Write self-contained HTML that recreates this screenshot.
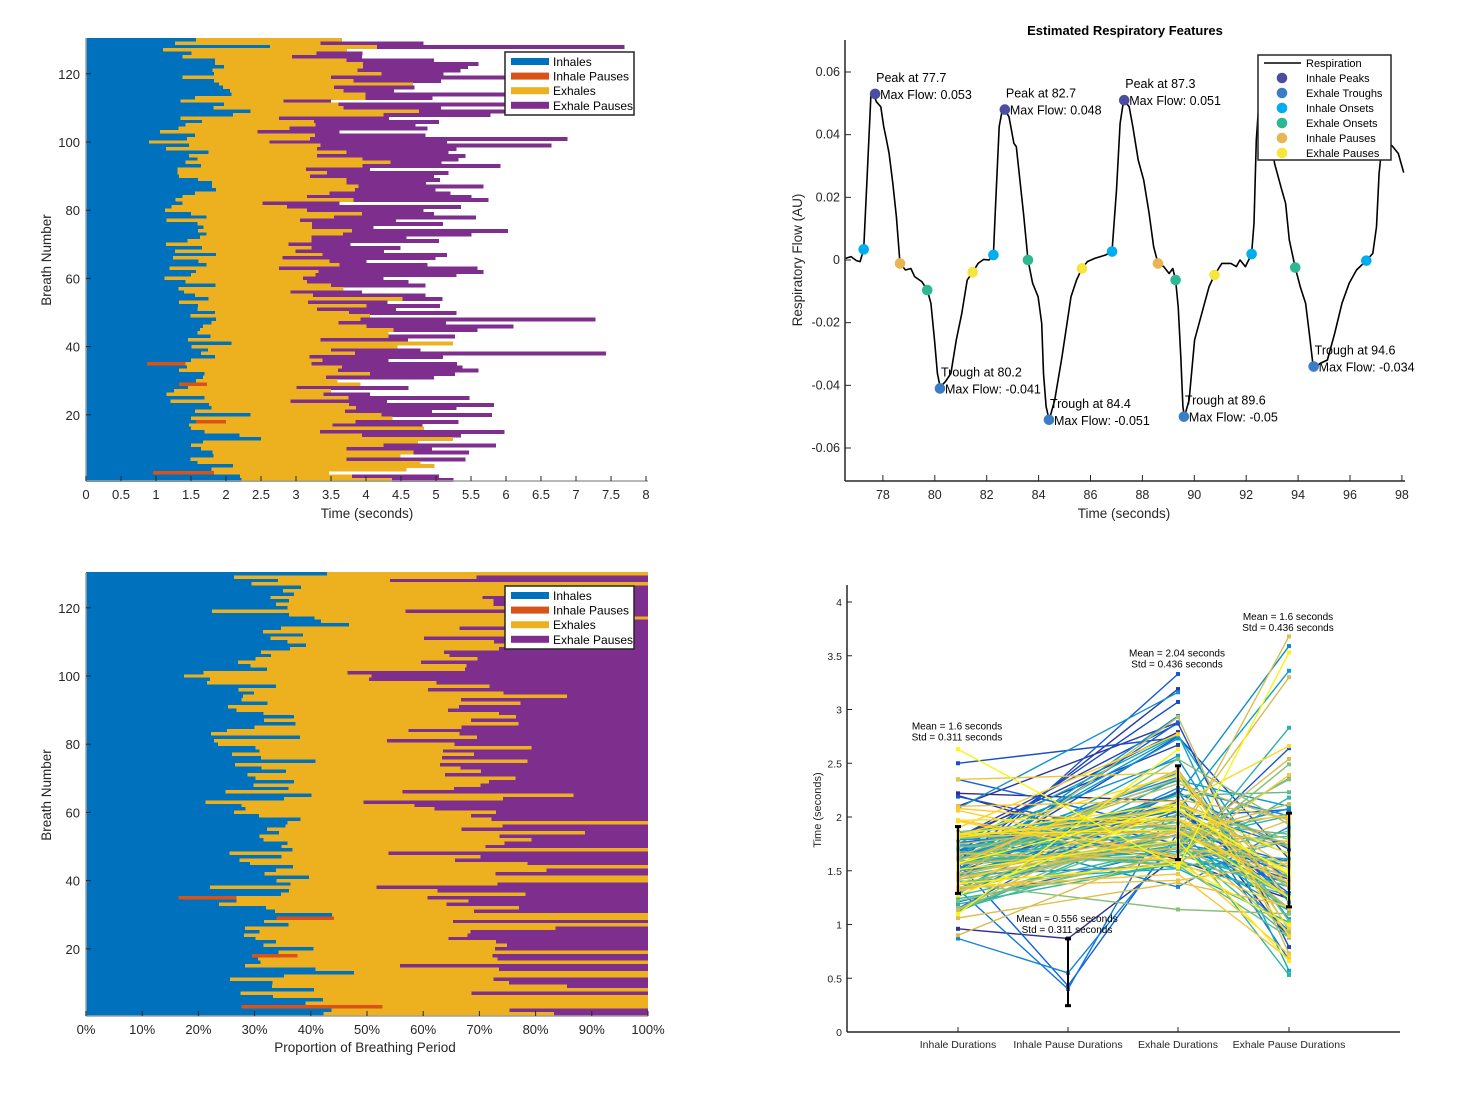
<!DOCTYPE html>
<html><head><meta charset="utf-8"><style>
html,body{margin:0;padding:0;background:#fff;}
svg{display:block;font-family:"Liberation Sans",Arial,sans-serif;}
</style></head><body>
<svg id="chart" width="1462" height="1096" viewBox="0 0 1462 1096" xmlns="http://www.w3.org/2000/svg">
<rect x="0" y="0" width="1462" height="1096" fill="#fff"/>
</svg>
<script>
// ---- breath data, ordered from breath 130 (top) down to breath 1 (seconds from breath onset) ----
const inhaleEnd=[1.57,1.27,2.63,1.10,1.51,1.38,1.84,1.84,1.97,1.81,1.83,1.38,1.83,1.90,1.96,2.06,2.08,1.56,1.35,1.97,
1.82,2.35,2.10,1.35,1.66,1.42,1.32,1.06,1.56,1.44,
0.90,1.47,1.14,1.75,1.47,1.59,1.42,1.64,1.31,1.31,
1.33,1.60,1.80,1.80,1.86,1.56,1.38,1.28,1.38,1.22,
1.13,1.50,1.72,1.15,1.59,1.68,1.60,1.72,1.63,1.45,
1.14,1.66,1.27,1.86,1.24,1.61,1.72,1.19,1.57,1.50,
1.12,1.42,1.85,1.32,1.40,1.56,1.75,1.33,1.60,1.59,
1.84,1.49,1.86,1.79,1.67,1.63,1.59,1.78,1.46,2.08,
1.51,1.74,1.64,1.84,1.50,0.87,1.44,1.33,1.69,1.67,
1.57,1.33,1.46,1.26,1.15,1.69,1.21,1.76,1.79,1.56,
2.35,1.50,1.57,1.47,1.50,1.69,2.19,2.50,1.67,1.50,
1.64,1.81,1.82,1.49,1.59,2.10,1.79,0.96,2.20,2.22];
const pauseBreaths=[35,29,18,3];
const pauseEnds=[1.42,1.73,2.00,1.83];
const exhaleEnd=[3.66,3.35,4.16,3.73,3.29,2.94,3.72,3.96,3.96,3.88,4.22,3.50,3.82,4.67,3.54,3.68,3.99,3.99,2.82,3.61,
3.68,4.76,4.25,2.76,3.26,3.28,2.91,2.45,3.27,3.20,
2.62,3.35,3.30,3.72,3.30,3.95,4.35,3.95,3.14,3.44,
3.20,3.72,3.72,3.89,3.84,3.48,3.16,3.82,2.52,2.87,
3.16,3.94,3.54,3.06,3.23,3.23,3.80,3.67,3.22,3.22,
2.89,3.22,2.99,3.38,2.81,3.48,3.62,2.76,3.32,3.28,
3.10,3.16,3.50,3.68,2.92,3.24,4.52,3.17,4.01,3.30,
3.76,4.06,3.92,3.61,4.01,4.39,4.32,4.32,3.35,5.24,
4.45,3.50,3.84,3.19,3.38,3.22,3.66,3.60,4.06,3.43,
3.59,3.92,3.01,3.50,3.39,3.75,2.92,3.76,3.86,3.70,
4.22,4.38,3.85,3.52,4.83,3.34,3.94,5.24,4.74,4.25,
3.72,4.68,4.49,3.72,4.78,4.98,4.58,3.47,3.80,4.37];
const breathEnd=[null,4.82,7.69,null,3.95,3.94,4.97,5.61,5.46,5.35,5.11,6.16,5.07,null,4.69,4.40,6.00,4.95,3.50,6.00,
5.07,6.00,5.78,4.33,5.04,4.71,4.88,3.62,4.85,6.88,
5.16,6.65,5.29,5.18,5.42,5.32,5.08,5.92,4.06,5.18,
4.97,5.06,4.86,5.68,4.99,5.21,5.51,5.75,3.62,5.36,
4.82,4.97,5.57,4.43,5.10,4.11,6.03,5.51,4.58,5.04,
3.78,4.49,4.26,5.16,4.99,4.01,4.88,5.59,5.68,5.29,
4.25,4.61,4.85,null,3.94,4.85,5.09,4.31,5.06,4.43,
5.29,null,7.28,5.14,6.11,5.59,null,5.27,4.60,null,
null,4.78,7.43,5.10,4.32,5.30,5.38,5.61,5.27,4.97,
null,null,4.61,null,4.06,5.48,4.30,5.83,5.29,4.94,
5.80,null,5.32,4.81,null,5.98,5.36,null,null,5.86,
4.94,5.47,null,5.42,null,null,null,null,5.04,5.25];
const breathTicks=[20,40,60,80,100,120];
const timeTicks=[0,0.5,1,1.5,2,2.5,3,3.5,4,4.5,5,5.5,6,6.5,7,7.5,8];
const pctTicks=[0,10,20,30,40,50,60,70,80,90,100];
const phaseNames=['Inhales','Inhale Pauses','Exhales','Exhale Pauses'];
// ---- respiration trace ----
const traceTime=[76.56,76.77,76.98,77.12,77.26,77.40,77.54,77.64,77.75,77.92,78.03,78.14,78.24,78.38,78.52,78.66,78.87,79.08,79.22,79.50,79.71,79.85,79.99,80.10,80.21,80.41,80.62,80.83,81.04,81.25,81.46,81.67,81.88,82.09,82.26,82.34,82.48,82.60,82.70,82.86,83.05,83.14,83.28,83.42,83.59,83.77,83.98,84.12,84.19,84.29,84.41,84.62,84.90,85.25,85.46,85.67,85.88,86.16,86.58,86.83,87.00,87.14,87.28,87.49,87.63,87.84,88.05,88.26,88.43,88.60,88.82,89.03,89.17,89.28,89.38,89.48,89.56,89.62,89.80,90.01,90.36,90.57,90.78,91.06,91.41,91.62,91.76,91.97,92.21,92.30,92.39,92.53,92.74,92.95,93.09,93.37,93.52,93.66,93.89,94.08,94.29,94.43,94.59,94.85,95.13,95.41,95.69,95.97,96.25,96.63,96.88,97.02,97.12,97.23,97.37,97.65,97.86,98.07];
const traceFlow=[0.0005,0.0011,-0.0002,-0.0005,0.0034,0.0277,0.0532,0.0529,0.0505,0.0489,0.0426,0.0383,0.0340,0.0245,0.0138,-0.0011,-0.0032,-0.0027,-0.0053,-0.0069,-0.0096,-0.0138,-0.0255,-0.0362,-0.0406,-0.0388,-0.0362,-0.0255,-0.0170,-0.0064,-0.0039,-0.0011,0.0002,0,0.0016,0.0170,0.0426,0.0479,0.0479,0.0457,0.0372,0.0362,0.0255,0.0149,0,-0.0074,-0.0117,-0.0202,-0.0362,-0.0468,-0.0511,-0.0447,-0.0309,-0.0117,-0.0064,-0.0027,-0.0005,0.0005,0.0016,0.0027,0.0223,0.0436,0.0511,0.0489,0.0426,0.0319,0.0255,0.0149,0.0043,-0.0011,-0.0021,-0.0043,-0.0027,-0.0064,-0.0149,-0.0309,-0.0468,-0.0500,-0.0447,-0.0255,-0.0149,-0.0085,-0.0048,-0.0011,-0.0011,-0.0021,0,-0.0021,0.0019,0.0117,0.0383,0.0553,0.0521,0.0404,0.0309,0.0223,0.0181,0.0064,-0.0024,-0.0085,-0.0138,-0.0234,-0.0346,-0.0330,-0.0319,-0.0234,-0.0138,-0.0074,-0.0032,-0.0002,0.0021,0.0106,0.0277,0.0362,0.0383,0.0362,0.0340,0.0279];
const peakTimes=[77.7,82.7,87.3];
const peakFlows=[0.053,0.048,0.051];
const troughTimes=[80.2,84.4,89.6,94.6];
const troughFlows=[-0.041,-0.051,-0.05,-0.034];
const inOnsetTimes=[77.26,82.26,86.83,92.21,96.63];
const inOnsetFlows=[0.0034,0.0016,0.0027,0.0019,-0.0002];
const exOnsetTimes=[79.71,83.59,89.28,93.89];
const exOnsetFlows=[-0.0096,0,-0.0064,-0.0024];
const inPauseTimes=[78.66,88.60];
const inPauseFlows=[-0.0011,-0.0011];
const exPauseTimes=[81.46,85.67,90.78];
const exPauseFlows=[-0.0039,-0.0027,-0.0048];
const flowTicks=[-0.06,-0.04,-0.02,0,0.02,0.04,0.06];
const traceTimeTicks=[78,80,82,84,86,88,90,92,94,96,98];
// ---- duration summary stats ----
const durCategories=['Inhale Durations','Inhale Pause Durations','Exhale Durations','Exhale Pause Durations'];
const durMeans=[1.6,0.556,2.04,1.6];
const durStds=[0.311,0.311,0.436,0.436];
const durLabelLevel=[2.84,1.05,3.52,3.86];
const durTicks=[0,0.5,1,1.5,2,2.5,3,3.5,4];

const NS='http://www.w3.org/2000/svg';
const svg=document.getElementById('chart');
function mk(tag,attrs,name,parent){
  const e=document.createElementNS(NS,tag);
  for(const k in attrs) e.setAttribute(k,attrs[k]);
  
  
  (parent||svg).appendChild(e);
  return e;
}
function txt(x,y,s,name,o){
  o=o||{};
  const e=mk('text',{x:x,y:y,'font-size':o.size||12,fill:o.fill||'#262626','text-anchor':o.anchor||'start','font-weight':o.weight||'normal'},name,o.parent);
  if(o.rot) e.setAttribute('transform','rotate(-90 '+x+' '+y+')');
  e.textContent=s;
  return e;
}
const C=['#0072bd','#d95319','#edb120','#7e2f8e'];
const N=inhaleEnd.length;
function breathNo(i){return N-i;}
function pauseEndOf(n){const k=pauseBreaths.indexOf(n);return k<0?null:pauseEnds[k];}

// ================= Top-left: time bars =================
const xT=s=>86+s*70;
const yRow=n=>483-3.41*n;
const g1=mk('g',{'shape-rendering':'crispEdges'},'breath-duration-bars');
for(let i=0;i<N;i++){
  const n=breathNo(i), y=yRow(n)-1.75, h=4;
  const pe=pauseEndOf(n);
  const segs=[[0,inhaleEnd[i],C[0],'inhale-bar'],
    pe!==null?[inhaleEnd[i],pe,C[1],'inhale-pause-bar']:null,
    [pe!==null?pe:inhaleEnd[i],exhaleEnd[i],C[2],'exhale-bar'],
    breathEnd[i]!==null?[exhaleEnd[i],breathEnd[i],C[3],'exhale-pause-bar']:null];
  segs.forEach(s=>{ if(!s) return;
    mk('rect',{x:xT(s[0]),y:y,width:Math.max(0,xT(s[1])-xT(s[0])),height:h,fill:s[2]},s[3],g1);
  });
}
mk('line',{x1:86,y1:38,x2:86,y2:481,stroke:'#a0a0a0','stroke-width':1.5},'y-axis-line');
mk('line',{x1:86,y1:481,x2:648,y2:481,stroke:'#a0a0a0','stroke-width':1.5},'x-axis-line');
timeTicks.forEach(t=>{
  mk('line',{x1:xT(t),y1:481,x2:xT(t),y2:476,stroke:'#262626'},'x-tick');
  txt(xT(t),499,String(t),'x-tick-label',{anchor:'middle',size:13});
});
breathTicks.forEach(b=>{
  mk('line',{x1:86,y1:yRow(b),x2:91,y2:yRow(b),stroke:'#262626'},'y-tick');
  txt(80,yRow(b)+5,String(b),'y-tick-label',{anchor:'end',size:13});
});
txt(367,518,'Time (seconds)','x-axis-title',{anchor:'middle',size:13.5});
txt(51,260,'Breath Number','y-axis-title',{anchor:'middle',size:13.5,rot:true});
function legend(x,y,name){
  const g=mk('g',{},name);
  mk('rect',{x:x,y:y,width:129,height:63,fill:'#fff',stroke:'#262626','stroke-width':1.5},'legend-box',g);
  phaseNames.forEach((p,k)=>{
    mk('rect',{x:x+6,y:y+6+k*14.6,width:38,height:7,fill:C[k]},'legend-swatch',g);
    txt(x+48,y+14+k*14.6,p,'legend-entry',{size:12,fill:'#000',parent:g});
  });
}
legend(505,52,'time-legend');

// ================= Bottom-left: proportion bars =================
const xP=p=>86+p*5.62;
const yRowB=n=>1017-3.41*n;
const g2=mk('g',{'shape-rendering':'crispEdges'},'breath-proportion-bars');
for(let i=0;i<N;i++){
  const n=breathNo(i), y=yRowB(n)-1.75, h=4;
  const pe=pauseEndOf(n);
  const tot=breathEnd[i]!==null?breathEnd[i]:exhaleEnd[i];
  const q=v=>100*v/tot;
  const segs=[[0,inhaleEnd[i],C[0],'inhale-bar'],
    pe!==null?[inhaleEnd[i],pe,C[1],'inhale-pause-bar']:null,
    [pe!==null?pe:inhaleEnd[i],exhaleEnd[i],C[2],'exhale-bar'],
    breathEnd[i]!==null?[exhaleEnd[i],breathEnd[i],C[3],'exhale-pause-bar']:null];
  segs.forEach(s=>{ if(!s) return;
    mk('rect',{x:xP(q(s[0])),y:y,width:Math.max(0,xP(q(s[1]))-xP(q(s[0]))),height:h,fill:s[2]},s[3],g2);
  });
}
mk('line',{x1:86,y1:573,x2:86,y2:1016,stroke:'#a0a0a0','stroke-width':1.5},'y-axis-line');
mk('line',{x1:86,y1:1016,x2:648,y2:1016,stroke:'#a0a0a0','stroke-width':1.5},'x-axis-line');
pctTicks.forEach(p=>{
  mk('line',{x1:xP(p),y1:1016,x2:xP(p),y2:1011,stroke:'#262626'},'x-tick');
  txt(xP(p),1034,p+'%','x-tick-label',{anchor:'middle',size:13});
});
breathTicks.forEach(b=>{
  mk('line',{x1:86,y1:yRowB(b),x2:91,y2:yRowB(b),stroke:'#262626'},'y-tick');
  txt(80,yRowB(b)+5,String(b),'y-tick-label',{anchor:'end',size:13});
});
txt(365,1052,'Proportion of Breathing Period','x-axis-title',{anchor:'middle',size:13.5});
txt(51,795,'Breath Number','y-axis-title',{anchor:'middle',size:13.5,rot:true});
legend(505,586,'proportion-legend');

// ================= Top-right: respiration trace =================
const xR=t=>882.9+(t-78)*25.95;
const yR=f=>260-f*3133.5;
txt(1125,35,'Estimated Respiratory Features','chart-title',{anchor:'middle',size:13,weight:'bold',fill:'#000'});
let d='';
traceTime.forEach((t,k)=>{d+=(k?'L':'M')+xR(t).toFixed(1)+' '+yR(traceFlow[k]).toFixed(1);});
mk('path',{d:d,fill:'none',stroke:'#000','stroke-width':1.6,'stroke-linejoin':'round'},'respiration-line');
function dots(ts,fs,col,name){ts.forEach((t,k)=>mk('circle',{cx:xR(t),cy:yR(fs[k]),r:5.3,fill:col},name));}
dots(inOnsetTimes,inOnsetFlows,'#00aeef','inhale-onset-marker');
dots(exOnsetTimes,exOnsetFlows,'#2db892','exhale-onset-marker');
dots(inPauseTimes,inPauseFlows,'#e9b552','inhale-pause-marker');
dots(exPauseTimes,exPauseFlows,'#f6e53c','exhale-pause-marker');
dots(peakTimes,peakFlows,'#4b4ea0','inhale-peak-marker');
dots(troughTimes,troughFlows,'#3b7dc4','exhale-trough-marker');
peakTimes.forEach((t,k)=>{const x=xR(t),y=yR(peakFlows[k]);
  txt(x+1,y-12,'Peak at '+t,'peak-label',{size:12.5,fill:'#000'});
  txt(x+5,y+5,'Max Flow: '+peakFlows[k],'peak-flow-label',{size:12.5,fill:'#000'});});
troughTimes.forEach((t,k)=>{const x=xR(t),y=yR(troughFlows[k]);
  txt(x+1,y-12,'Trough at '+t,'trough-label',{size:12.5,fill:'#000'});
  txt(x+5,y+5,'Max Flow: '+troughFlows[k],'trough-flow-label',{size:12.5,fill:'#000'});});
mk('line',{x1:845,y1:40,x2:845,y2:481,stroke:'#262626','stroke-width':1.5},'y-axis-line');
mk('line',{x1:845,y1:481,x2:1405,y2:481,stroke:'#262626','stroke-width':1.5},'x-axis-line');
flowTicks.forEach(f=>{
  mk('line',{x1:845,y1:yR(f),x2:851,y2:yR(f),stroke:'#262626'},'y-tick');
  txt(840,yR(f)+4,String(f),'y-tick-label',{anchor:'end',size:12.5});
});
traceTimeTicks.forEach(t=>{
  mk('line',{x1:xR(t),y1:481,x2:xR(t),y2:475,stroke:'#262626'},'x-tick');
  txt(xR(t),499,String(t),'x-tick-label',{anchor:'middle',size:12.5});
});
txt(1124,518,'Time (seconds)','x-axis-title',{anchor:'middle',size:13.5});
txt(802,260,'Respiratory Flow (AU)','y-axis-title',{anchor:'middle',size:13.5,rot:true});
const lg=mk('g',{},'trace-legend');
mk('rect',{x:1258,y:55,width:133,height:105,fill:'#fff',stroke:'#262626','stroke-width':1.5},'legend-box',lg);
mk('line',{x1:1264,y1:63,x2:1301,y2:63,stroke:'#000','stroke-width':1.6},'legend-line',lg);
txt(1306,67,'Respiration','legend-entry',{size:11,fill:'#000',parent:lg});
const lgItems=[['Inhale Peaks','#4b4ea0'],['Exhale Troughs','#3b7dc4'],['Inhale Onsets','#00aeef'],['Exhale Onsets','#2db892'],['Inhale Pauses','#e9b552'],['Exhale Pauses','#f6e53c']];
lgItems.forEach((it,k)=>{
  mk('circle',{cx:1282,cy:78+k*15,r:5.3,fill:it[1]},'legend-marker',lg);
  txt(1306,82+k*15,it[0],'legend-entry',{size:11,fill:'#000',parent:lg});
});

// ================= Bottom-right: duration profiles =================
const xC=[958,1068,1178,1289];
const yB=v=>1032-v*107.5;
const stops=[[53,42,135],[15,92,221],[20,129,214],[6,164,202],[46,183,164],[135,191,119],[209,187,89],[254,200,50],[249,251,14]];
function parula(u){const p=u*(stops.length-1),k=Math.min(stops.length-2,Math.floor(p)),f=p-k;
  const c=stops[k].map((v,j)=>Math.round(v+(stops[k+1][j]-v)*f));return 'rgb('+c.join(',')+')';}
const g4=mk('g',{},'duration-profiles');
for(let n=1;n<=N;n++){
  const i=N-n;
  const pe=pauseEndOf(n);
  const pts=[[0,inhaleEnd[i]]];
  if(pe!==null) pts.push([1,pe-inhaleEnd[i]]);
  pts.push([2,exhaleEnd[i]-(pe!==null?pe:inhaleEnd[i])]);
  if(breathEnd[i]!==null) pts.push([3,breathEnd[i]-exhaleEnd[i]]);
  const col=parula((n-1)/(N-1));
  let pd='';pts.forEach((p,k)=>{pd+=(k?'L':'M')+xC[p[0]]+' '+yB(p[1]).toFixed(1);});
  mk('path',{d:pd,fill:'none',stroke:col,'stroke-width':1.4},'breath-profile-line',g4);
  pts.forEach(p=>mk('rect',{x:xC[p[0]]-2,y:yB(p[1])-2,width:4,height:4,fill:col},'duration-point',g4));
}
durMeans.forEach((m,k)=>{
  const x=xC[k],y1=yB(m-durStds[k]),y2=yB(m+durStds[k]);
  mk('line',{x1:x,y1:y1,x2:x,y2:y2,stroke:'#000','stroke-width':2},'error-bar');
  mk('line',{x1:x-3,y1:y1,x2:x+3,y2:y1,stroke:'#000','stroke-width':3},'error-cap');
  mk('line',{x1:x-3,y1:y2,x2:x+3,y2:y2,stroke:'#000','stroke-width':3},'error-cap');
  txt(x-1,yB(durLabelLevel[k])+3,'Mean = '+m+' seconds','mean-label',{anchor:'middle',size:10,fill:'#000'});
  txt(x-1,yB(durLabelLevel[k])+14,'Std = '+durStds[k]+' seconds','std-label',{anchor:'middle',size:10,fill:'#000'});
});
mk('line',{x1:847,y1:585,x2:847,y2:1032,stroke:'#262626','stroke-width':1.5},'y-axis-line');
mk('line',{x1:847,y1:1032,x2:1400,y2:1032,stroke:'#262626','stroke-width':1.5},'x-axis-line');
durTicks.forEach(v=>{
  mk('line',{x1:847,y1:yB(v),x2:852,y2:yB(v),stroke:'#262626'},'y-tick');
  txt(842,yB(v)+4,String(v),'y-tick-label',{anchor:'end',size:10.5});
});
durCategories.forEach((c,k)=>{
  mk('line',{x1:xC[k],y1:1032,x2:xC[k],y2:1027,stroke:'#262626'},'x-tick');
  txt(xC[k],1048,c,'x-tick-label',{anchor:'middle',size:10.5});
});
txt(821,810,'Time (seconds)','y-axis-title',{anchor:'middle',size:11,rot:true});
</script>
</body></html>
